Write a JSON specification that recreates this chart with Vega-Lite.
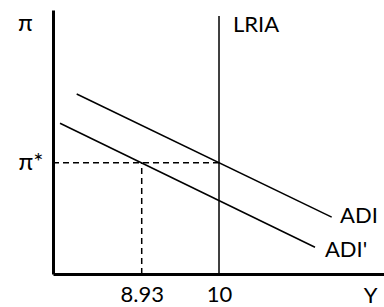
{
  "$schema": "https://vega.github.io/schema/vega-lite/v6.json",
  "width": 331,
  "height": 264,
  "autosize": {"type": "none"},
  "padding": {"left": 53, "top": 10, "right": 0, "bottom": 33},
  "background": "white",
  "config": {
    "view": {"stroke": null},
    "font": "Lato",
    "text": {"font": "Lato"}
  },
  "datasets": {
    "lines": [
      {"curve": "ADI", "Y": 8.03, "pi": 4.852},
      {"curve": "ADI", "Y": 11.56, "pi": 1.534},
      {"curve": "ADI'", "Y": 7.799, "pi": 4.063},
      {"curve": "ADI'", "Y": 11.329, "pi": 0.72},
      {"curve": "LRIA", "Y": 10, "pi": 0},
      {"curve": "LRIA", "Y": 10, "pi": 6.954}
    ],
    "dashed": [
      {"seg": "h", "Y": 7.702, "pi": 3},
      {"seg": "h", "Y": 10, "pi": 3},
      {"seg": "v", "Y": 8.93, "pi": 0},
      {"seg": "v", "Y": 8.93, "pi": 3}
    ],
    "labels": [
      {"text": "LRIA", "Y": 10.194, "pi": 6.71},
      {"text": "ADI", "Y": 11.675, "pi": 1.563},
      {"text": "ADI'", "Y": 11.467, "pi": 0.647}
    ]
  },
  "encoding": {
    "x": {
      "field": "Y",
      "type": "quantitative",
      "scale": {"domain": [7.702, 12.284], "nice": false, "zero": false},
      "axis": {
        "title": "Y",
        "values": [8.93, 10],
        "labelExpr": "datum.value == 10 ? '10' : '8.93'",
        "grid": false,
        "ticks": false,
        "domainColor": "black",
        "domainWidth": 3,
        "labelFont": "Lato",
        "labelFontSize": 22,
        "labelColor": "black",
        "labelPadding": 10,
        "labelFlush": false,
        "titleFont": "Lato",
        "titleFontSize": 22,
        "titleFontWeight": "normal",
        "titleColor": "black",
        "titleX": 317,
        "titleY": 21,
        "titleAlign": "center",
        "titleBaseline": "middle"
      }
    },
    "y": {
      "field": "pi",
      "type": "quantitative",
      "scale": {"domain": [0, 7.116], "nice": false, "zero": false},
      "axis": {
        "title": "π",
        "values": [3],
        "labelExpr": "'π*'",
        "grid": false,
        "ticks": false,
        "domainColor": "black",
        "domainWidth": 3,
        "labelFont": "Lato",
        "labelFontSize": 24,
        "labelColor": "black",
        "labelPadding": 10,
        "titleFont": "Lato",
        "titleFontSize": 24,
        "titleFontWeight": "normal",
        "titleColor": "black",
        "titleAngle": 0,
        "titleX": -28,
        "titleY": 13,
        "titleAlign": "center",
        "titleBaseline": "middle"
      }
    }
  },
  "layer": [
    {
      "data": {"name": "lines"},
      "mark": {"type": "line", "color": "black", "strokeWidth": 1.5},
      "encoding": {"detail": {"field": "curve"}}
    },
    {
      "data": {"name": "dashed"},
      "mark": {"type": "line", "color": "black", "strokeWidth": 1.5, "strokeDash": [6, 4]},
      "encoding": {"detail": {"field": "seg"}}
    },
    {
      "data": {"name": "labels"},
      "mark": {"type": "text", "align": "left", "baseline": "middle", "fontSize": 22, "font": "Lato", "color": "black"},
      "encoding": {"text": {"field": "text"}}
    }
  ]
}
